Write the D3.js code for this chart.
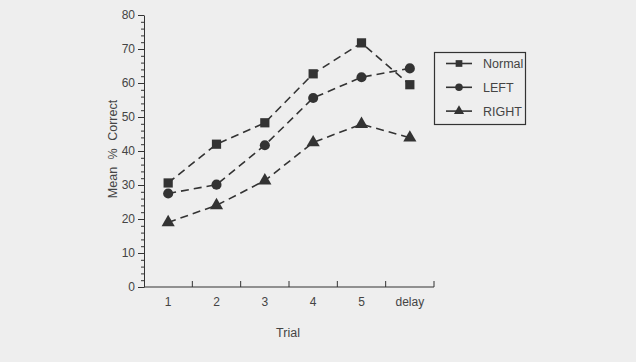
<!DOCTYPE html>
<html>
<head>
<meta charset="utf-8">
<script src="https://cdn.jsdelivr.net/npm/d3@7"></script>
<style>
  body { margin: 0; background: #eeeeee; }
  svg { display: block; font-family: "Liberation Sans", Arial, sans-serif; }
  .axis path, .axis line { stroke: #333; }
  .axis text { fill: #444; font-size: 12px; }
</style>
</head>
<body>
<svg width="636" height="362"></svg>
<script>
const trials = ["1", "2", "3", "4", "5", "delay"];
const normal = [30.6, 42, 48.3, 62.7, 71.8, 59.5];
const left = [27.5, 30.1, 41.7, 55.6, 61.7, 64.3];
const right = [19, 24, 31.3, 42.5, 47.9, 43.9];
const seriesNames = ["Normal", "LEFT", "RIGHT"];
const yTicks = [0, 10, 20, 30, 40, 50, 60, 70, 80];

const margin = { top: 15, left: 144 },
      plotW = 290,
      plotH = 272;

const svg = d3.select("svg");
const g = svg.append("g")
  .attr("transform", `translate(${margin.left},${margin.top})`);

const x = d3.scaleBand().domain(trials).range([0, plotW]);
const y = d3.scaleLinear().domain([0, 80]).range([plotH, 0]);

// minor ticks every 2
g.append("g")
  .attr("class", "axis")
  .call(d3.axisLeft(y).tickValues(d3.range(0, 81, 2)).tickSize(3).tickFormat(""))
  .call(s => s.select(".domain").remove());

// y axis
g.append("g")
  .attr("class", "axis")
  .call(d3.axisLeft(y).tickValues(yTicks).tickSize(6).tickSizeOuter(0).tickPadding(3));

// x axis, ticks sit on the category boundaries
const xAxis = g.append("g")
  .attr("class", "axis")
  .attr("transform", `translate(0,${plotH})`);
xAxis.append("path")
  .attr("d", `M0,0H${plotW}`)
  .attr("stroke", "#333");
xAxis.selectAll("line")
  .data(trials)
  .enter().append("line")
  .attr("x1", d => x(d) + x.bandwidth())
  .attr("x2", d => x(d) + x.bandwidth())
  .attr("y1", 0).attr("y2", -6);
xAxis.selectAll("text")
  .data(trials)
  .enter().append("text")
  .attr("x", d => x(d) + x.bandwidth() / 2)
  .attr("y", 19)
  .attr("text-anchor", "middle")
  .text(d => d);

// axis titles
svg.append("text")
  .attr("transform", "translate(117,149) rotate(-90)")
  .attr("text-anchor", "middle")
  .attr("fill", "#444")
  .style("font-size", "12.5px")
  .style("word-spacing", "4px")
  .text("Mean % Correct");

svg.append("text")
  .attr("x", 288).attr("y", 337)
  .attr("text-anchor", "middle")
  .attr("fill", "#444")
  .style("font-size", "12.5px")
  .text("Trial");

// series
const series = [normal, left, right];
const shapes = [d3.symbolSquare, d3.symbolCircle, d3.symbolTriangle];
const sizes = [85, 80, 75];
const cx = d => x(d) + x.bandwidth() / 2;

const line = d3.line()
  .x((d, i) => cx(trials[i]))
  .y(d => y(d));

series.forEach((vals, k) => {
  g.append("path")
    .datum(vals)
    .attr("fill", "none")
    .attr("stroke", "#333")
    .attr("stroke-width", 1.6)
    .attr("stroke-dasharray", "8,5")
    .attr("d", line);

  g.selectAll(".m" + k)
    .data(vals)
    .enter().append("path")
    .attr("class", "m" + k)
    .attr("transform", (d, i) => `translate(${cx(trials[i])},${y(d)})`)
    .attr("d", d3.symbol().type(shapes[k]).size(sizes[k]))
    .attr("fill", "#333");
});

// legend
const legend = svg.append("g");
legend.append("rect")
  .attr("x", 434.5).attr("y", 52.5)
  .attr("width", 91).attr("height", 72)
  .attr("fill", "none")
  .attr("stroke", "#333")
  .attr("stroke-width", 1.2);

seriesNames.forEach((name, k) => {
  const ly = 63.5 + k * 23.8;
  legend.append("line")
    .attr("x1", 446).attr("x2", 472)
    .attr("y1", ly).attr("y2", ly)
    .attr("stroke", "#333").attr("stroke-width", 1.6);
  legend.append("path")
    .attr("transform", `translate(459,${ly})`)
    .attr("d", d3.symbol().type(shapes[k]).size(45))
    .attr("fill", "#333");
  legend.append("text")
    .attr("x", 483).attr("y", ly + 4.5)
    .attr("fill", "#444")
    .style("font-size", "12.5px")
    .text(name);
});
</script>
</body>
</html>
